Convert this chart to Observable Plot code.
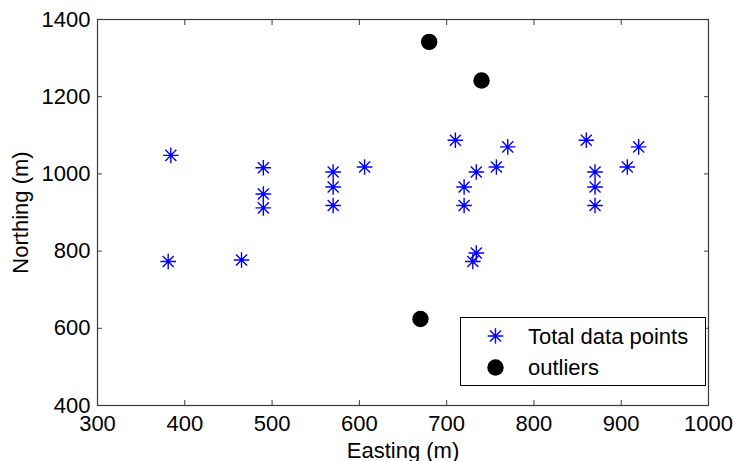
<!DOCTYPE html>
<html>
<head>
<meta charset="utf-8">
<script src="https://cdn.jsdelivr.net/npm/d3@7"></script>
<script src="https://cdn.jsdelivr.net/npm/@observablehq/plot@0.6"></script>
<style>
  html, body { margin: 0; padding: 0; background: #fff; }
  #wrap { position: relative; width: 733px; height: 461px; font-family: "Liberation Sans", Arial, sans-serif; }
  #legend { position: absolute; left: 460px; top: 317px; }
</style>
</head>
<body>
<div id="wrap"></div>
<script>
// Data
const totalEasting  = [384, 381, 465, 490, 490, 490, 570, 570, 570, 606, 710, 720, 720, 734, 757, 770, 734, 730, 860, 870, 870, 870, 907, 920];
const totalNorthing = [1048, 773, 777, 1016, 948, 912, 1005, 966, 918, 1018, 1087, 966, 918, 1005, 1018, 1070, 795, 773, 1087, 1005, 966, 918, 1018, 1070];
const outlierEasting  = [680, 740, 670];
const outlierNorthing = [1342, 1242, 624];
const xTicks = [300, 400, 500, 600, 700, 800, 900, 1000];
const yTicks = [400, 600, 800, 1000, 1200, 1400];
const seriesNames = ["Total data points", "outliers"];

const total = totalEasting.map((x, i) => ({x, y: totalNorthing[i]}));
const outliers = outlierEasting.map((x, i) => ({x, y: outlierNorthing[i]}));

const asterisk8 = {
  draw(context, size) {
    const r = Math.sqrt(size / Math.PI);
    const d = r * Math.SQRT1_2;
    context.moveTo(-r, 0); context.lineTo(r, 0);
    context.moveTo(0, -r); context.lineTo(0, r);
    context.moveTo(-d, -d); context.lineTo(d, d);
    context.moveTo(-d, d); context.lineTo(d, -d);
  }
};

const FS = 22;
const axisColor = "#3a3a3a";
const fmt = d3.format("d");

const chart = Plot.plot({
  width: 733,
  height: 461,
  marginLeft: 97,
  marginRight: 25,
  marginTop: 19,
  marginBottom: 56,
  style: {fontFamily: "'Liberation Sans', Arial, sans-serif", fontSize: FS + "px", color: "black", background: "white"},
  x: {domain: [300, 1000]},
  y: {domain: [400, 1400]},
  marks: [
    Plot.frame({stroke: axisColor, strokeWidth: 1.2}),
    Plot.axisX(xTicks, {anchor: "bottom", tickSize: 0, tickPadding: 10, tickFormat: fmt, fontSize: FS, label: "Easting (m)", labelAnchor: "center", labelArrow: "none", labelOffset: 52, color: "black"}),
    Plot.axisX(xTicks, {anchor: "bottom", tickSize: -5, tickFormat: () => "", label: null, stroke: axisColor}),
    Plot.axisX(xTicks, {anchor: "top", tickSize: -5, tickFormat: () => "", label: null, stroke: axisColor}),
    Plot.axisY(yTicks, {anchor: "left", tickSize: 0, tickPadding: 7, tickFormat: fmt, fontSize: FS, label: "Northing (m)", labelAnchor: "center", labelArrow: "none", labelOffset: 85, color: "black"}),
    Plot.axisY(yTicks, {anchor: "left", tickSize: -5, tickFormat: () => "", label: null, stroke: axisColor}),
    Plot.axisY(yTicks, {anchor: "right", tickSize: -5, tickFormat: () => "", label: null, stroke: axisColor}),
    Plot.dot(total, {x: "x", y: "y", symbol: asterisk8, r: 7.8, stroke: "#0000ff", fill: "none", strokeWidth: 1.4}),
    Plot.dot(outliers, {x: "x", y: "y", symbol: "circle", r: 8.2, fill: "black", stroke: "none"})
  ]
});
document.getElementById("wrap").appendChild(chart);

// Legend (inside plot area, lower right)
const lw = 245, lh = 68;
const leg = d3.select("#wrap").append("svg").attr("id", "legend")
  .attr("width", lw + 1).attr("height", lh + 1);
leg.append("rect").attr("x", 0.5).attr("y", 0.5).attr("width", lw).attr("height", lh)
  .attr("fill", "white").attr("stroke", "black").attr("stroke-width", 1);
const rows = [
  {name: seriesNames[0], cy: 19},
  {name: seriesNames[1], cy: 50.5}
];
const r0 = 7.8;
const p = d3.path(); asterisk8.draw(p, r0 * r0 * Math.PI);
leg.append("path").attr("d", p.toString()).attr("transform", `translate(35.5,${rows[0].cy})`)
  .attr("stroke", "#0000ff").attr("fill", "none").attr("stroke-width", 1.4);
leg.append("circle").attr("cx", 35.5).attr("cy", rows[1].cy).attr("r", 8.2).attr("fill", "black");
rows.forEach(row => {
  leg.append("text").attr("x", 68).attr("y", row.cy).attr("dy", "0.36em")
    .attr("font-family", "'Liberation Sans', Arial, sans-serif").attr("font-size", FS)
    .attr("fill", "black").text(row.name);
});
</script>
</body>
</html>
